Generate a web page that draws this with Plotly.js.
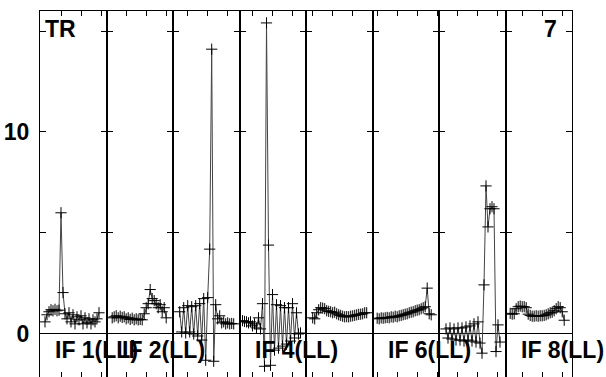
<!DOCTYPE html>
<html><head><meta charset="utf-8">
<script src="https://cdn.plot.ly/plotly-3.0.1.min.js"></script>
<style>html,body{margin:0;padding:0;background:#fff}#chart{width:606px;height:377px}</style>
</head><body><div id="chart"></div><script>
// Series values per panel (sample index order)
const if1 = [0.6,0.95,1.1,1.2,1.15,1.22,1.15,1.18,6.0,2.05,1.0,0.75,1.05,0.6,0.95,0.5,0.85,0.7,0.9,0.5,0.8,0.55,0.75,0.5,0.7,0.6,0.75,1.05];
const if2 = [0.8,0.85,0.9,0.8,0.88,0.82,0.85,0.75,0.8,0.72,0.78,0.7,0.75,0.7,0.72,0.7,1.0,1.3,1.5,2.2,1.75,1.65,1.5,1.3,1.45,1.1,1.3,0.8];
const if3 = [1.1,0.1,1.3,0.05,1.4,0.1,1.35,0.0,1.4,-0.1,1.5,-0.3,1.75,-1.3,1.8,4.2,14.1,-1.35,1.45,0.75,0.9,0.55,0.6,0.5,0.55,0.5,0.52,0.5];
const if4 = [0.66,0.62,0.6,0.55,0.6,0.4,0.5,0.3,0.8,0.25,1.5,-1.6,15.4,4.4,-1.55,1.95,-0.8,1.45,-0.7,1.4,-0.6,1.3,-0.5,1.3,-0.35,1.5,-0.2,1.05,0.0,0.05];
const if5 = [0.8,0.75,1.05,1.2,1.3,1.28,1.25,1.15,1.12,1.1,1.05,1.08,1.0,0.95,0.92,0.88,0.85,0.86,0.85,0.88,0.9,0.92,0.95,0.97,0.98,1.0,1.05,1.05];
const if6 = [0.78,0.75,0.8,0.78,0.8,0.82,0.8,0.85,0.83,0.88,0.85,0.9,0.92,0.95,0.98,1.0,1.05,1.08,1.1,1.15,1.18,1.2,1.25,1.3,1.35,2.27,1.0,0.95];
const if7 = [0.25,-0.2,0.3,-0.25,0.25,-0.3,0.3,-0.3,0.3,-0.35,0.35,-0.3,0.4,-0.35,0.5,-0.4,0.6,-0.45,-0.95,2.43,7.33,5.3,6.2,6.3,6.2,-0.87,0.45,-0.4];
const if8 = [1.02,0.98,1.0,1.25,1.35,1.38,1.35,1.35,1.3,0.98,0.92,0.88,0.88,0.9,0.88,0.9,0.9,0.92,0.95,1.0,1.05,1.08,1.15,1.25,1.35,1.3,1.1,0.68];

const panelLabels = ['IF 1(LL)','IF 2(LL)','','IF 4(LL)','','IF 6(LL)','','IF 8(LL)'];
const yTickVals = [0,5,10,15];
const yTickText = ['0','','10',''];
const cornerLeft = 'TR';
const cornerRight = '7';

const panels = [if1,if2,if3,if4,if5,if6,if7,if8];
// layout/style only
const rangeStart = [-2.5,-2.85,-3.35,-1.5,-3.35,-2.35,-3.5,-2.35];
const tickStart = [-2,7.15,4.0,4.85,0,0,5.85,6.0];
const span = 33.25;
const FONT = 'Liberation Sans, Arial, sans-serif';
const bigFont = {family:FONT, size:23, weight:'bold', color:'#000'};

const traces = [];
const layout = {
  width:606, height:377,
  margin:{l:40, r:34, t:11, b:0},
  showlegend:false,
  paper_bgcolor:'#fff', plot_bgcolor:'#fff',
  annotations:[]
};
panels.forEach((ys,i)=>{
  const n = i===0 ? '' : String(i+1);
  traces.push({
    x: ys.map((_,j)=>j), y: ys,
    xaxis:'x'+n, yaxis:'y'+n,
    type:'scatter', mode:'lines+markers',
    line:{color:'#444', width:1},
    marker:{symbol:'cross-thin', size:8, line:{color:'#000', width:1}},
    hoverinfo:'skip'
  });
  layout['xaxis'+n] = {
    domain:[i/8,(i+1)/8], anchor:'y'+n,
    range:[rangeStart[i], rangeStart[i]+span],
    showline:true, mirror:'ticks', linecolor:'#000', linewidth:1,
    ticks:'inside', ticklen:5, tickcolor:'#000', tickwidth:1,
    tick0:tickStart[i], dtick:10,
    showticklabels:false, showgrid:false, zeroline:false
  };
  layout['yaxis'+n] = {
    anchor:'x'+n, range:[-2.13,15.99],
    showline:true, mirror:'ticks', linecolor:'#000', linewidth:1,
    ticks:'inside', ticklen:6, tickcolor:'#000', tickwidth:1,
    tickvals:yTickVals, ticktext:yTickText.map(t=>t?'<b>'+t+'</b>':t),
    showticklabels: i===0, ticklabelstandoff:5,
    tickfont:bigFont,
    showgrid:false, zeroline:true, zerolinecolor:'#000', zerolinewidth:1
  };
  if (panelLabels[i]) {
    layout.annotations.push({
      text:'<b>'+panelLabels[i]+'</b>', xref:'x'+n+' domain', yref:'paper',
      x:13/66.5, y:0.0738, xanchor:'left', yanchor:'middle', showarrow:false,
      font:bigFont
    });
  }
});
layout.annotations.push({
  text:'<b>'+cornerLeft+'</b>', xref:'x domain', yref:'paper', x:3/66.5, y:0.951,
  xanchor:'left', yanchor:'middle', showarrow:false, font:bigFont
});
layout.annotations.push({
  text:'<b>'+cornerRight+'</b>', xref:'x8 domain', yref:'paper', x:(558-505)/66.5, y:0.951,
  xanchor:'right', yanchor:'middle', showarrow:false, font:bigFont
});
Plotly.newPlot('chart', traces, layout, {staticPlot:true, displayModeBar:false});
</script></body></html>
